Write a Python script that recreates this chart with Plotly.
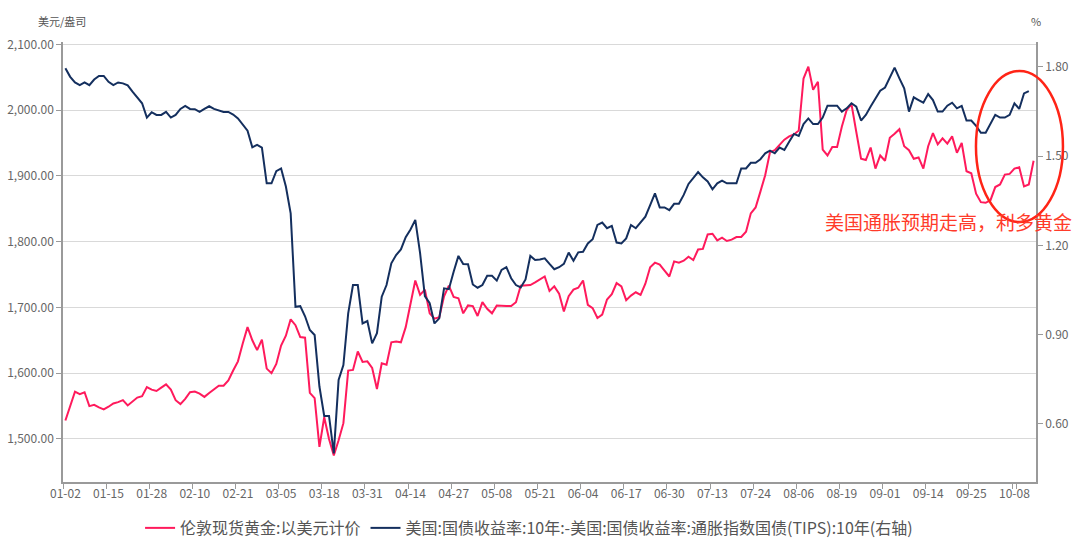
import pandas as pd
import plotly.graph_objects as go

# ---------------- data ----------------
excluded_days = ["2020-04-10", "2020-05-25"]
all_days = pd.bdate_range("2020-01-02", "2020-10-14")
dates = [d.strftime("%m-%d") for d in all_days if d.strftime("%Y-%m-%d") not in excluded_days]
tick_labels = dates[::9]

gold_name = "伦敦现货黄金:以美元计价"
gold = [
    1528, 1549, 1572, 1568, 1571, 1550, 1552, 1548, 1545, 1549,
    1554, 1556, 1559, 1551, 1557, 1563, 1565, 1579, 1575, 1573,
    1578, 1583, 1575, 1559, 1553, 1561, 1571, 1572, 1569, 1564,
    1570, 1575, 1581, 1581, 1589, 1604, 1618, 1645, 1670, 1650,
    1635, 1651, 1607, 1600, 1614, 1642, 1657, 1682, 1673, 1655,
    1654, 1570, 1562, 1488, 1533, 1500, 1475, 1498, 1524, 1604,
    1605, 1633, 1617, 1618, 1608, 1576, 1615, 1613, 1647, 1648,
    1647, 1670, 1706, 1741, 1719, 1727, 1691, 1683, 1685, 1717,
    1733, 1716, 1714, 1691, 1703, 1702, 1687, 1708, 1698, 1691,
    1703, 1702, 1702, 1702, 1708, 1733, 1734, 1734, 1738, 1743,
    1747, 1725, 1732, 1721, 1694, 1717, 1727, 1730, 1741, 1704,
    1699, 1684, 1689, 1712, 1720, 1737, 1732, 1711, 1718, 1723,
    1719, 1736, 1761, 1768, 1765, 1756, 1747, 1770, 1768, 1771,
    1777, 1772, 1788, 1789, 1811, 1812, 1802, 1806, 1801, 1803,
    1807, 1807, 1815, 1843, 1852, 1876, 1901, 1936, 1939, 1947,
    1955, 1960, 1963, 1969, 2048, 2066, 2031, 2043, 1940, 1931,
    1944, 1944, 1975, 2000, 2009, 1967, 1926, 1924, 1943, 1911,
    1931, 1923, 1958, 1964, 1971, 1945, 1939, 1926, 1928, 1911,
    1945, 1965, 1948, 1957, 1949, 1960, 1935, 1950, 1907, 1904,
    1873, 1860, 1859, 1863, 1883, 1887, 1902, 1903, 1911, 1913,
    1884, 1887, 1923,
]

be_name = "美国:国债收益率:10年:-美国:国债收益率:通胀指数国债(TIPS):10年(右轴)"
breakeven = [
    1.796, 1.767, 1.748, 1.739, 1.748, 1.739, 1.758, 1.770, 1.770, 1.750,
    1.739, 1.748, 1.745, 1.738, 1.717, 1.698, 1.678, 1.630, 1.648, 1.639,
    1.639, 1.649, 1.630, 1.639, 1.659, 1.669, 1.659, 1.658, 1.649, 1.659,
    1.668, 1.659, 1.653, 1.649, 1.649, 1.640, 1.627, 1.605, 1.586, 1.530,
    1.538, 1.529, 1.409, 1.409, 1.450, 1.459, 1.398, 1.308, 0.994, 0.996,
    0.962, 0.916, 0.899, 0.726, 0.627, 0.627, 0.501, 0.748, 0.798, 0.972,
    1.067, 1.067, 0.938, 0.946, 0.871, 0.905, 1.028, 1.067, 1.140, 1.168,
    1.187, 1.228, 1.254, 1.286, 1.174, 1.030, 1.006, 0.938, 0.955, 1.056,
    1.053, 1.112, 1.165, 1.138, 1.137, 1.069, 1.058, 1.067, 1.098, 1.098,
    1.082, 1.118, 1.127, 1.090, 1.067, 1.059, 1.086, 1.165, 1.151, 1.153,
    1.157, 1.138, 1.120, 1.127, 1.138, 1.176, 1.149, 1.177, 1.179, 1.207,
    1.221, 1.269, 1.277, 1.258, 1.266, 1.210, 1.207, 1.224, 1.269, 1.258,
    1.277, 1.297, 1.336, 1.375, 1.328, 1.328, 1.319, 1.340, 1.340, 1.370,
    1.407, 1.429, 1.447, 1.429, 1.415, 1.389, 1.409, 1.418, 1.409, 1.409,
    1.409, 1.459, 1.459, 1.478, 1.478, 1.490, 1.510, 1.519, 1.510, 1.529,
    1.521, 1.549, 1.575, 1.568, 1.608, 1.627, 1.608, 1.608, 1.630, 1.670,
    1.670, 1.670, 1.650, 1.661, 1.678, 1.667, 1.620, 1.639, 1.667, 1.695,
    1.720, 1.731, 1.762, 1.798, 1.762, 1.728, 1.650, 1.698, 1.689, 1.680,
    1.709, 1.689, 1.650, 1.650, 1.670, 1.680, 1.661, 1.669, 1.620, 1.620,
    1.602, 1.579, 1.579, 1.608, 1.639, 1.630, 1.630, 1.639, 1.678, 1.659,
    1.711, 1.719,
]

left_ticks = [1500, 1600, 1700, 1800, 1900, 2000, 2100]
right_ticks = [0.60, 0.90, 1.20, 1.50, 1.80]
left_unit = "美元/盎司"
right_unit = "%"
note_text = "美国通胀预期走高，利多黄金"

# ---------------- figure ----------------
FONT = "Noto Sans CJK SC, Microsoft YaHei, sans-serif"
AXIS_COLOR = "#9a9a9a"
TICK_FONT = dict(family=FONT, size=12, color="#666666")

fig = go.Figure()
fig.add_trace(go.Scatter(
    x=dates, y=gold, name=gold_name, mode="lines",
    line=dict(color="#FF1A5C", width=2), yaxis="y",
))
fig.add_trace(go.Scatter(
    x=dates[:len(breakeven)], y=breakeven, name=be_name, mode="lines",
    line=dict(color="#142F5E", width=2), yaxis="y2",
))

fig.update_layout(
    width=1080, height=548,
    margin=dict(l=63, r=44, t=42, b=66, autoexpand=False),
    paper_bgcolor="white", plot_bgcolor="white",
    font=dict(family=FONT, color="#555555"),
    showlegend=True,
    legend=dict(
        orientation="h", x=0.479, xanchor="center", y=-0.1045, yanchor="middle",
        font=dict(family=FONT, size=16, color="#555555"),
        itemwidth=30, bgcolor="rgba(0,0,0,0)",
    ),
    xaxis=dict(
        type="category", categoryorder="array", categoryarray=dates,
        range=[-0.5, len(dates) - 0.5],
        tickmode="array", tickvals=tick_labels, ticktext=tick_labels,
        tickson="boundaries", ticks="outside", ticklen=5, tickcolor=AXIS_COLOR,
        showline=True, linecolor=AXIS_COLOR, linewidth=1.5,
        showgrid=False, zeroline=False, tickfont=TICK_FONT, tickangle=0,
        automargin=False,
    ),
    yaxis=dict(
        range=[1434.6, 2103.5], tickmode="array", tickvals=left_ticks,
        tickformat=",.2f", ticks="outside", ticklen=5, tickcolor=AXIS_COLOR,
        showline=True, linecolor=AXIS_COLOR, linewidth=1.5,
        showgrid=True, gridcolor="#d9d9d9", gridwidth=1, zeroline=False,
        tickfont=TICK_FONT, automargin=False,
    ),
    yaxis2=dict(
        overlaying="y", side="right",
        range=[0.405, 1.884], tickmode="array", tickvals=right_ticks,
        tickformat=".2f", ticks="outside", ticklen=5, tickcolor=AXIS_COLOR,
        showline=True, linecolor=AXIS_COLOR, linewidth=1.5,
        showgrid=False, zeroline=False, tickfont=TICK_FONT, automargin=False,
    ),
    annotations=[
        dict(text=left_unit, xref="paper", yref="paper", x=-0.001, y=1.048,
             xanchor="center", yanchor="middle", showarrow=False,
             font=dict(family=FONT, size=11, color="#555555")),
        dict(text=right_unit, xref="paper", yref="paper", x=1.0, y=1.048,
             xanchor="center", yanchor="middle", showarrow=False,
             font=dict(family=FONT, size=11, color="#555555")),
        dict(text=note_text, xref="paper", yref="paper", x=0.7811, y=0.5920,
             xanchor="left", yanchor="middle", showarrow=False,
             font=dict(family=FONT, size=19, color="#FF3B2A")),
    ],
    shapes=[
        dict(type="circle", xref="paper", yref="paper",
             x0=0.9383, x1=1.0277, y0=0.5909, y1=0.9341,
             line=dict(color="#FF2416", width=2.5), layer="above"),
    ],
)

fig.write_html(
    "out.html",
    config={"displayModeBar": False},
    post_script="document.body.style.margin='0';document.body.style.padding='0';",
)
